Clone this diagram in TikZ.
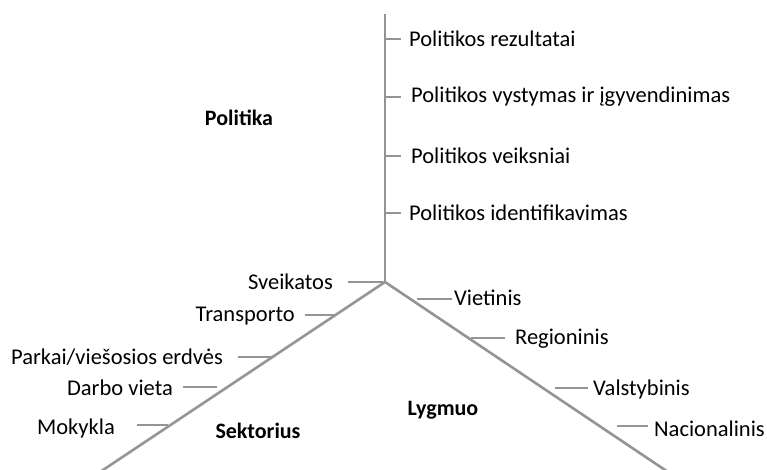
\documentclass[tikz,border=0pt]{standalone}
\usepackage{fontspec}
\setmainfont{Carlito}
\begin{document}
\begin{tikzpicture}[x=1pt,y=-1pt,
  axis/.style={draw=black!42,line width=2.6pt},
  tick/.style={draw=black!42,line width=2.2pt},
  lbl/.style={font=\fontsize{22.5}{24}\selectfont,inner sep=0pt},
  ttl/.style={font=\fontsize{22}{24}\selectfont\bfseries,inner sep=0pt}]
\useasboundingbox (0,0) rectangle (767,470);
% axes
\coordinate (c) at (385,282);
\coordinate (top) at (385,14);
\coordinate (bl) at (100,472);
\coordinate (br) at (668,472);
\draw[axis] (top) -- (c);
\draw[axis] (c) -- (bl);
\draw[axis] (c) -- (br);
% vertical labels
\node[lbl,anchor=west] (p1) at (409,39) {Politikos rezultatai};
\node[lbl,anchor=west] (p2) at (411,97) {Politikos vystymas ir įgyvendinimas};
\node[lbl,anchor=west] (p3) at (411,156) {Politikos veiksniai};
\node[lbl,anchor=west] (p4) at (409,213) {Politikos identifikavimas};
\foreach \n in {p1,p2,p3,p4}{
  \coordinate (t\n) at (\n.west -| c);
  \draw[tick] (t\n) -- (\n.west -| 401,0);
}
% left labels
\node[lbl,anchor=east] (s1) at (333,282) {Sveikatos};
\node[lbl,anchor=east] (s2) at (295,316) {Transporto};
\node[lbl,anchor=east] (s3) at (223,357) {Parkai/viešosios erdvės};
\node[lbl,anchor=east] (s4) at (173,388) {Darbo vieta};
\node[lbl,anchor=east] (s5) at (115,428) {Mokykla};
\coordinate (e1) at (348,282); \coordinate (f1) at (383,282);
\coordinate (e2) at (305,315); \coordinate (f2) at (336,315);
\coordinate (e3) at (238,357); \coordinate (f3) at (273,357);
\coordinate (e4) at (183,387); \coordinate (f4) at (217,387);
\coordinate (e5) at (137,425); \coordinate (f5) at (168,425);
\foreach \i in {1,...,5}{\draw[tick] (e\i) -- (f\i);}
% right labels
\node[lbl,anchor=west] (r1) at (454,298) {Vietinis};
\node[lbl,anchor=west] (r2) at (515,339) {Regioninis};
\node[lbl,anchor=west] (r3) at (593,389) {Valstybinis};
\node[lbl,anchor=west] (r4) at (654,429) {Nacionalinis};
\coordinate (g1) at (417,299); \coordinate (h1) at (452,299);
\coordinate (g2) at (471,338); \coordinate (h2) at (505,338);
\coordinate (g3) at (555,388); \coordinate (h3) at (588,388);
\coordinate (g4) at (617,426); \coordinate (h4) at (648,426);
\foreach \i in {1,...,4}{\draw[tick] (g\i) -- (h\i);}
% titles
\node[ttl] (politika) at (239,118) {Politika};
\node[ttl] (sektorius) at (258,431) {Sektorius};
\node[ttl] (lygmuo) at (443,410) {Lygmuo};
\end{tikzpicture}
\end{document}
